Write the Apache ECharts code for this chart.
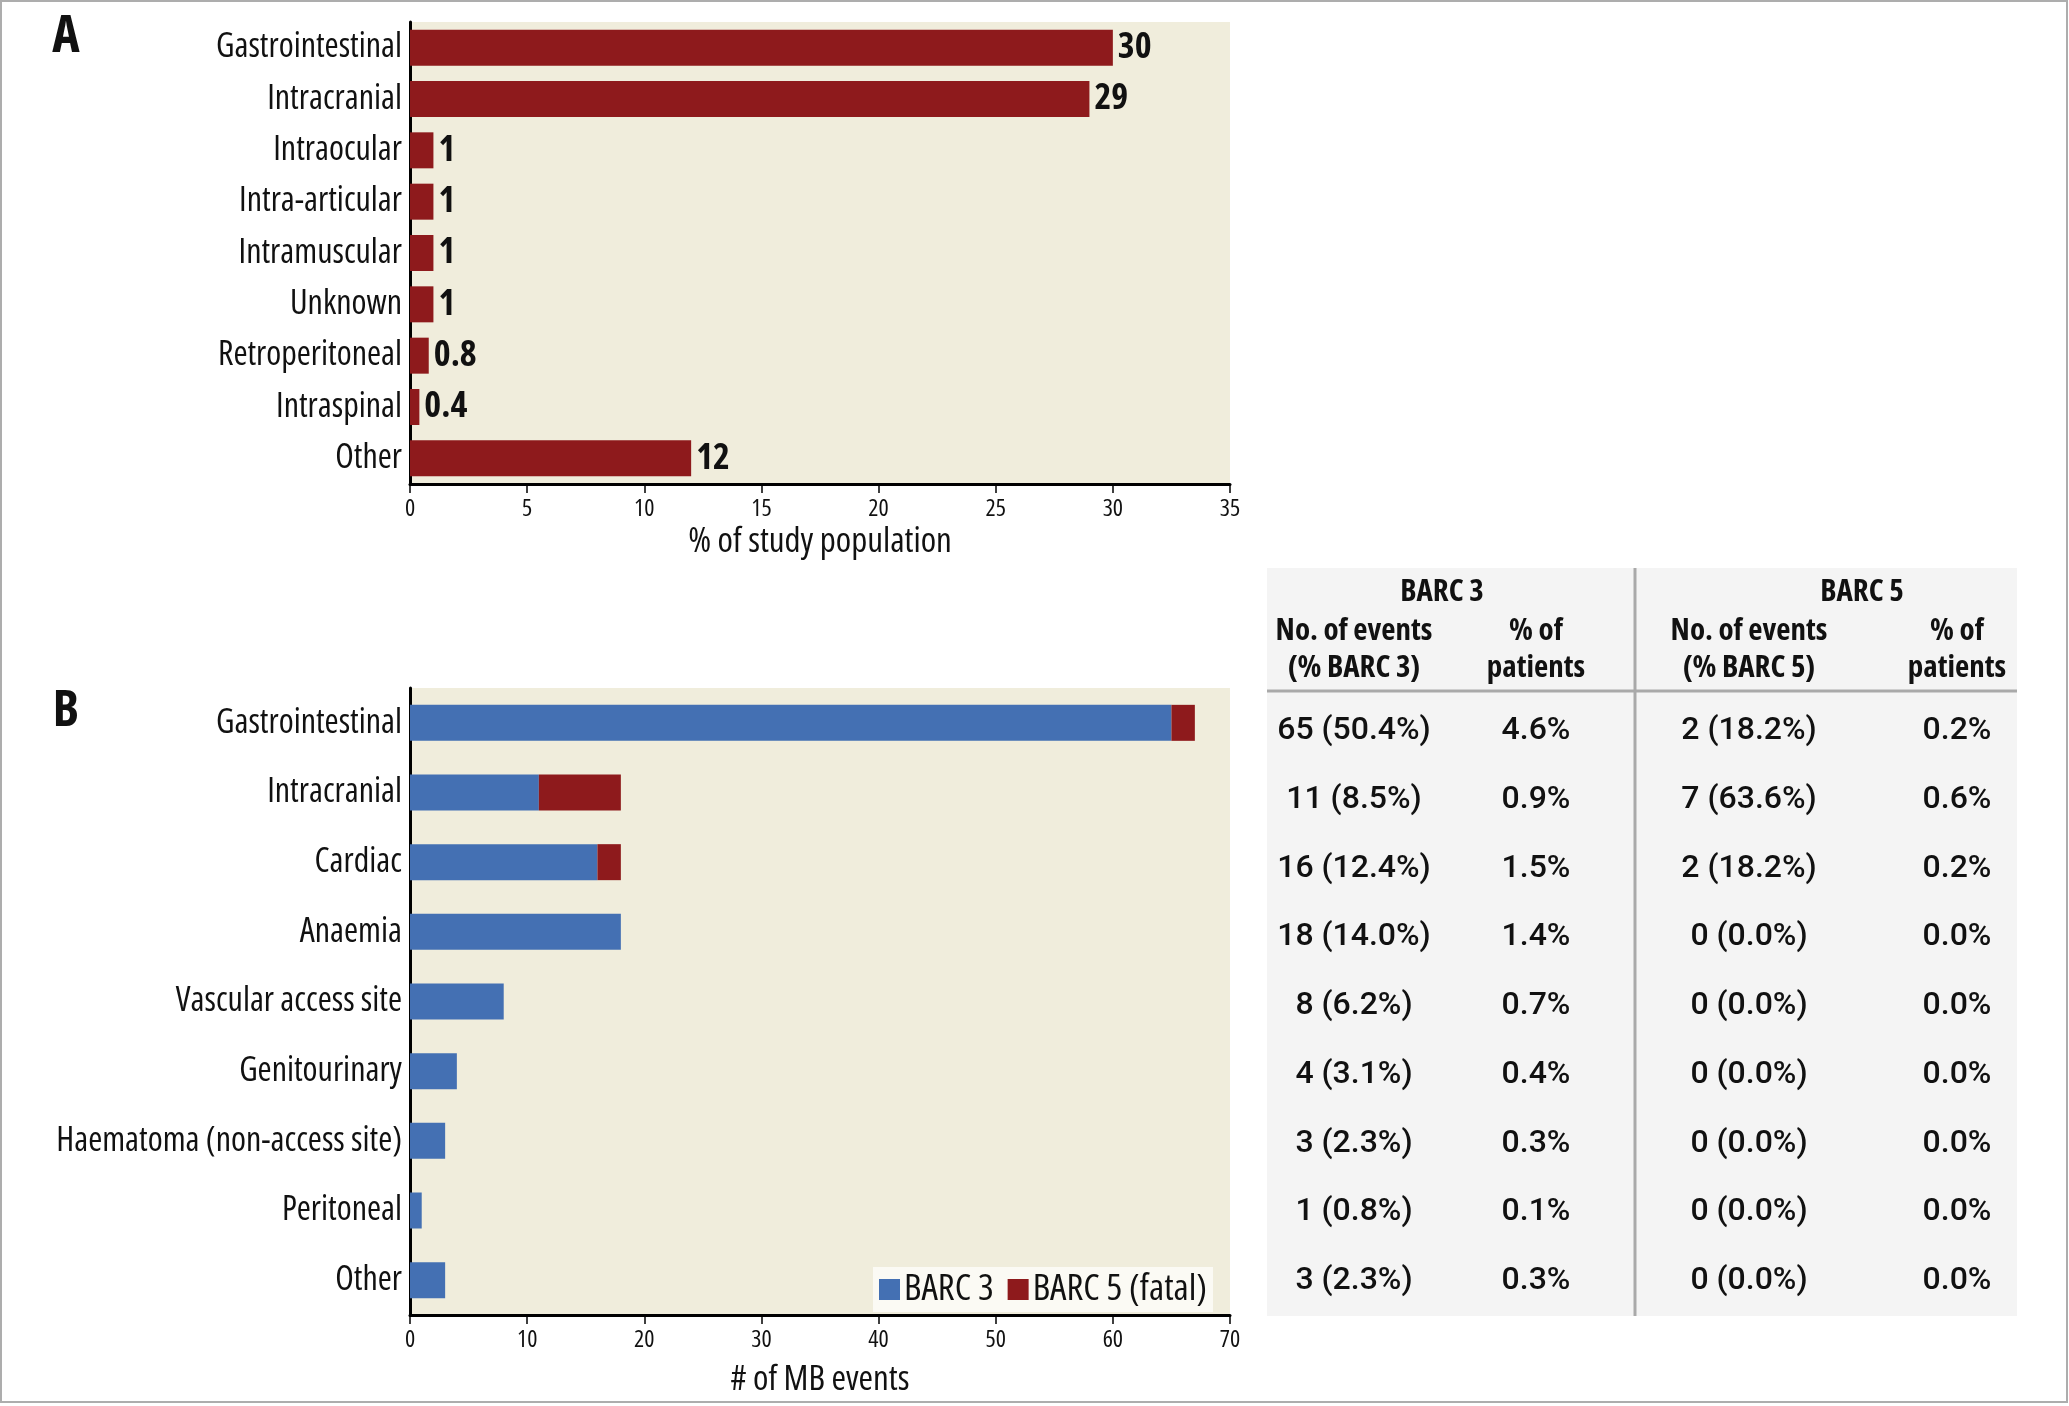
<!DOCTYPE html>
<html><head><meta charset="utf-8">
<script src="https://cdn.jsdelivr.net/npm/echarts@6/dist/echarts.min.js"></script>
<style>html,body{margin:0;padding:0;background:#fff}#c{width:2069px;height:1406px}</style>
</head><body><div id="c"></div>
<script>
// ---- Panel A data ----
const catA = ['Gastrointestinal','Intracranial','Intraocular','Intra-articular','Intramuscular','Unknown','Retroperitoneal','Intraspinal','Other'];
const valA = [30, 29, 1, 1, 1, 1, 0.8, 0.4, 12];
const ticksA = [0, 5, 10, 15, 20, 25, 30, 35];
// ---- Panel B data ----
const catB = ['Gastrointestinal','Intracranial','Cardiac','Anaemia','Vascular access site','Genitourinary','Haematoma (non-access site)','Peritoneal','Other'];
const barc3 = [65, 11, 16, 18, 8, 4, 3, 1, 3];
const barc5 = [2, 7, 2, 0, 0, 0, 0, 0, 0];
const ticksB = [0, 10, 20, 30, 40, 50, 60, 70];
// ---- Table data ----
const barc3Pct = [50.4, 8.5, 12.4, 14.0, 6.2, 3.1, 2.3, 0.8, 2.3];
const barc3PatPct = [4.6, 0.9, 1.5, 1.4, 0.7, 0.4, 0.3, 0.1, 0.3];
const barc5Pct = [18.2, 63.6, 18.2, 0.0, 0.0, 0.0, 0.0, 0.0, 0.0];
const barc5PatPct = [0.2, 0.6, 0.2, 0.0, 0.0, 0.0, 0.0, 0.0, 0.0];
const headTop = ['BARC 3', 'BARC 5'];
const headSub = [['No. of events','(% BARC 3)'], ['% of','patients'], ['No. of events','(% BARC 5)'], ['% of','patients']];

const RED = '#8E1A1C', BLUE = '#4470B3', BEIGE = '#F0EDDC';
const FAM = '"Open Sans", "Roboto Condensed", sans-serif';
const CS = 'condensed';
const TBLFONT = 'Roboto, "Liberation Sans", sans-serif';

function xAxisCfg(gi, ticks, name, gap) {
  return {
    type: 'value', gridIndex: gi, min: ticks[0], max: ticks[ticks.length - 1], interval: ticks[1] - ticks[0],
    axisLine: { show: true, lineStyle: { color: '#000', width: 3 } },
    axisTick: { show: true, length: 9, lineStyle: { color: '#000', width: 1.5 } },
    axisLabel: { fontSize: 24, fontStyle: CS, fontFamily: FAM, color: '#111', margin: 13 },
    splitLine: { show: false },
    name: name, nameLocation: 'middle', nameGap: gap,
    nameTextStyle: { fontSize: 35, fontStyle: CS, fontFamily: FAM, color: '#111' }
  };
}
function yAxisCfg(gi, cats) {
  return {
    type: 'category', gridIndex: gi, data: cats, inverse: true,
    axisLine: { show: true, lineStyle: { color: '#000', width: 3 } },
    axisTick: { show: false },
    axisLabel: { fontSize: 34, fontStyle: CS, fontFamily: FAM, color: '#111', margin: 8 },
    splitLine: { show: false }
  };
}

// Table graphics
const tbl = { left: 1267, right: 2017, top: 568, bottom: 1316, divX: 1635, lineY: 691 };
const colX = [1354, 1536, 1749, 1957];
const rowY0 = 731, rowStep = 68.75;
const g = [];
g.push({ type: 'rect', shape: { x: tbl.left, y: tbl.top, width: tbl.right - tbl.left, height: tbl.bottom - tbl.top }, style: { fill: '#F4F4F4' } });
g.push({ type: 'line', shape: { x1: tbl.divX, y1: tbl.top, x2: tbl.divX, y2: tbl.bottom }, style: { stroke: '#A9A9A9', lineWidth: 3 } });
g.push({ type: 'line', shape: { x1: tbl.left, y1: tbl.lineY, x2: tbl.right, y2: tbl.lineY }, style: { stroke: '#A9A9A9', lineWidth: 3 } });
function txt(t, x, y, font) {
  return { type: 'text', style: { text: t, x: x, y: y, font: font, fill: '#111', textAlign: 'center', align: 'center', textVerticalAlign: 'middle', verticalAlign: 'middle' } };
}
const hFont = CS + ' bold 31px ' + FAM;
g.push(txt(headTop[0], 1442, 592, hFont));
g.push(txt(headTop[1], 1862, 592, hFont));
headSub.forEach((pair, i) => {
  g.push(txt(pair[0], colX[i], 631, hFont));
  g.push(txt(pair[1], colX[i], 668, hFont));
});
const dFont = '500 32px ' + TBLFONT;
for (let i = 0; i < catB.length; i++) {
  const y = rowY0 + i * rowStep;
  g.push(txt(barc3[i] + ' (' + barc3Pct[i].toFixed(1) + '%)', colX[0], y, dFont));
  g.push(txt(barc3PatPct[i].toFixed(1) + '%', colX[1], y, dFont));
  g.push(txt(barc5[i] + ' (' + barc5Pct[i].toFixed(1) + '%)', colX[2], y, dFont));
  g.push(txt(barc5PatPct[i].toFixed(1) + '%', colX[3], y, dFont));
}
g.push(txt('A', 66, 37, CS + ' bold 52px ' + FAM));
g.push(txt('B', 66, 712, CS + ' bold 50px ' + FAM));
g.push({ type: 'rect', z: 100, shape: { x: 1, y: 1, width: 2066, height: 1401 }, style: { fill: 'none', stroke: '#ADADAD', lineWidth: 2 } });

const chart = echarts.init(document.getElementById('c'), null, { renderer: 'canvas' });
chart.setOption({
  animation: false,
  backgroundColor: '#fff',
  grid: [
    { left: 410, top: 22, width: 820, height: 462, show: true, backgroundColor: BEIGE, borderWidth: 0, containLabel: false, outerBoundsMode: 'none' },
    { left: 410, top: 688, width: 820, height: 627, show: true, backgroundColor: BEIGE, borderWidth: 0, containLabel: false, outerBoundsMode: 'none' }
  ],
  xAxis: [xAxisCfg(0, ticksA, '% of study population', 41), xAxisCfg(1, ticksB, '# of MB events', 48)],
  yAxis: [yAxisCfg(0, catA), yAxisCfg(1, catB)],
  legend: {
    data: ['BARC 3', 'BARC 5 (fatal)'], left: 873, top: 1267, orient: 'horizontal',
    icon: 'rect', itemWidth: 21, itemHeight: 21, itemGap: 14,
    padding: [4, 6, 4, 6], backgroundColor: '#FBFAF4',
    textStyle: { fontSize: 37, lineHeight: 25, fontStyle: CS, fontFamily: FAM, color: '#111', padding: [0, 0, 0, -1] }
  },
  series: [
    { type: 'bar', name: 'A', xAxisIndex: 0, yAxisIndex: 0, data: valA, barWidth: 36,
      itemStyle: { color: RED },
      label: { show: true, position: 'right', distance: 5, formatter: p => String(p.value),
        fontSize: 36, fontWeight: 'bold', fontStyle: CS, fontFamily: FAM, color: '#111' } },
    { type: 'bar', name: 'BARC 3', xAxisIndex: 1, yAxisIndex: 1, stack: 'b', data: barc3, barWidth: 36,
      itemStyle: { color: BLUE } },
    { type: 'bar', name: 'BARC 5 (fatal)', xAxisIndex: 1, yAxisIndex: 1, stack: 'b', data: barc5, barWidth: 36,
      itemStyle: { color: RED } }
  ],
  graphic: { elements: g }
});
</script>
</body></html>
